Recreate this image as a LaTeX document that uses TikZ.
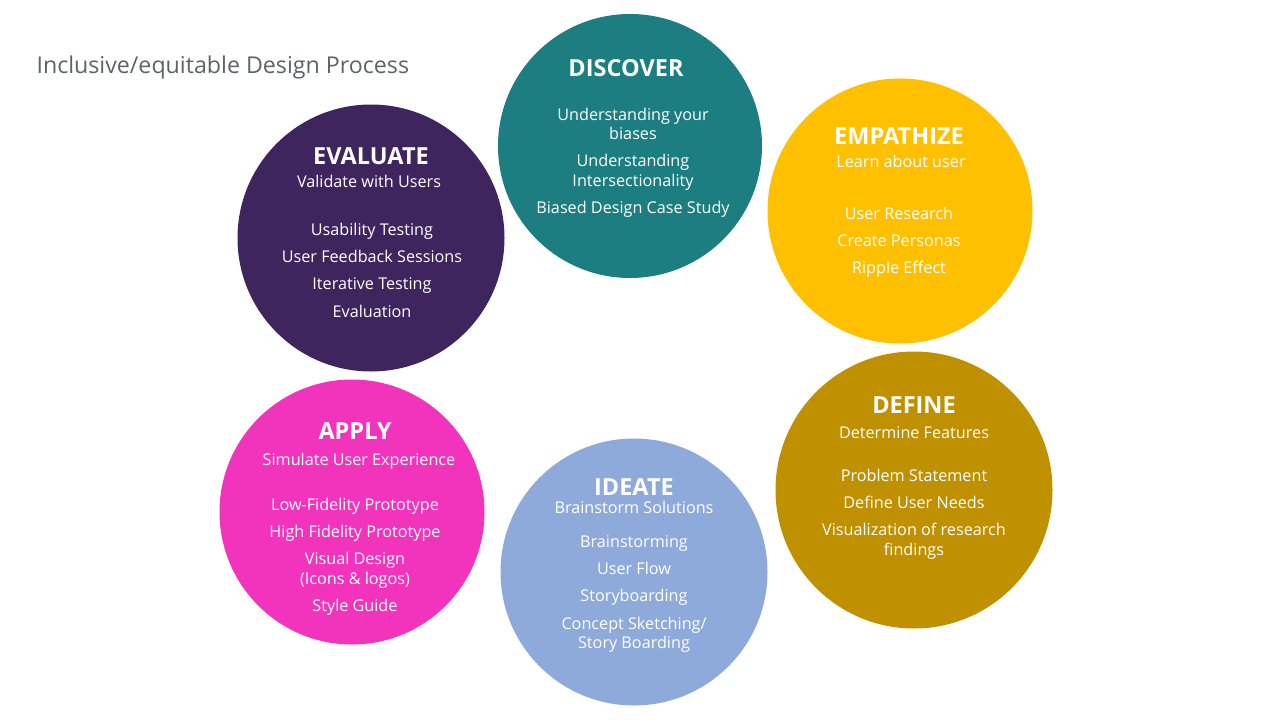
\documentclass[tikz,border=0pt]{standalone}
\usepackage{fontspec}
\setmainfont{Open Sans}
\definecolor{cteal}{HTML}{1C7E80}
\definecolor{cyellow}{HTML}{FFC000}
\definecolor{cgold}{HTML}{BF9000}
\definecolor{cblue}{HTML}{8EAADB}
\definecolor{cpink}{HTML}{F234BD}
\definecolor{cpurple}{HTML}{3E255E}
\definecolor{ctitle}{HTML}{5F6369}
\begin{document}
\begin{tikzpicture}[x=1pt,y=-1pt,
  phase/.style={circle,inner sep=0pt,minimum size=#1},
  head/.style={text=white,anchor=base,font=\fontsize{23.5}{23.5}\selectfont\bfseries},
  body/.style={text=white,anchor=base,font=\fontsize{16.2}{19}\selectfont}]
\useasboundingbox (0,0) rectangle (1280,720);
\node[anchor=base west,text=ctitle,font=\fontsize{23.2}{23.2}\selectfont] (title) at (33,73) {Inclusive/equitable Design Process};
% circles
\node[phase=264pt,fill=cteal]   (discover) at (630,146) {};
\node[phase=265pt,fill=cyellow] (empathize) at (900,211) {};
\node[phase=277pt,fill=cgold]   (define) at (914,490) {};
\node[phase=267pt,fill=cblue]   (ideate) at (634,572) {};
\node[phase=265pt,fill=cpink]   (apply) at (352,512) {};
\node[phase=267pt,fill=cpurple] (evaluate) at (371,238) {};
% DISCOVER
\node[head] (d0) at (626,76) {DISCOVER};
\node[body] (d1) at (633,120) {Understanding your};
\node[body] (d2) at (633,139) {biases};
\node[body] (d3) at (633,166) {Understanding};
\node[body] (d4) at (633,186) {Intersectionality};
\node[body] (d5) at (633,213) {Biased Design Case Study};
% EMPATHIZE
\node[head] (e0) at (899,144) {EMPATHIZE};
\node[body] (e1) at (901,167) {Learn about user};
\node[body] (e2) at (899,219) {User Research};
\node[body] (e3) at (899,246) {Create Personas};
\node[body] (e4) at (899,273) {Ripple Effect};
% DEFINE
\node[head] (f0) at (914,413) {DEFINE};
\node[body] (f1) at (914,438) {Determine Features};
\node[body] (f2) at (914,481) {Problem Statement};
\node[body] (f3) at (914,508) {Define User Needs};
\node[body] (f4) at (914,535) {Visualization of research};
\node[body] (f5) at (914,555) {findings};
% IDEATE
\node[head] (i0) at (634,495) {IDEATE};
\node[body] (i1) at (634,513) {Brainstorm Solutions};
\node[body] (i2) at (634,547) {Brainstorming};
\node[body] (i3) at (634,574) {User Flow};
\node[body] (i4) at (634,601) {Storyboarding};
\node[body] (i5) at (634,629) {Concept Sketching/};
\node[body] (i6) at (634,648) {Story Boarding};
% APPLY
\node[head] (a0) at (355,439) {APPLY};
\node[body] (a1) at (359,465) {Simulate User Experience};
\node[body] (a2) at (355,510) {Low-Fidelity Prototype};
\node[body] (a3) at (355,537) {High Fidelity Prototype};
\node[body] (a4) at (355,564) {Visual Design};
\node[body] (a5) at (355,584) {(Icons \& logos)};
\node[body] (a6) at (355,611) {Style Guide};
% EVALUATE
\node[head] (v0) at (371,164) {EVALUATE};
\node[body] (v1) at (369,187) {Validate with Users};
\node[body] (v2) at (372,235) {Usability Testing};
\node[body] (v3) at (372,262) {User Feedback Sessions};
\node[body] (v4) at (372,289) {Iterative Testing};
\node[body] (v5) at (372,317) {Evaluation};
\end{tikzpicture}
\end{document}
